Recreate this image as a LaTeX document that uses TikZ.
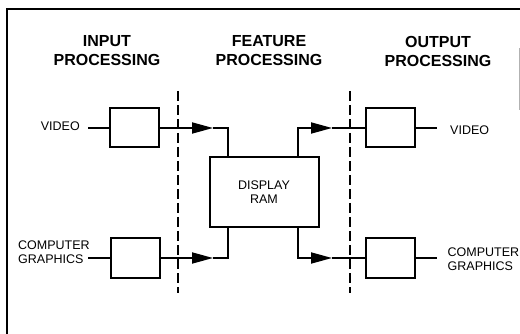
\documentclass[tikz,border=0pt]{standalone}
\usepackage{fontspec}
\setmainfont{Liberation Sans}
\usetikzlibrary{arrows.meta}
\begin{document}
\begin{tikzpicture}[x=1pt,y=-1pt,
  box/.style={draw,line width=2pt,minimum width=49pt,minimum height=39pt,inner sep=0pt},
  wire/.style={line width=1.8pt},
  arr/.style={wire,-{Triangle[length=21pt,width=11pt]}},
  bound/.style={line width=1.2pt,dash pattern=on 10pt off 4pt},
  head/.style={font=\bfseries\fontsize{16}{19}\selectfont,align=center,inner sep=0pt},
  lbl/.style={font=\fontsize{12.5}{14}\selectfont,align=left,inner sep=0pt}]
\useasboundingbox (0,0) rectangle (520,334);
% frame
\draw[line width=2pt] (7,340) -- (7,9) -- (522,9);
\draw[gray!60,line width=0.8pt] (519.5,48) -- (519.5,110);
% headings
\node[head] (h1) at (107,51) {INPUT\\PROCESSING};
\node[head] (h2) at (269,51) {FEATURE\\PROCESSING};
\node[head] (h3) at (438,51) {OUTPUT\\PROCESSING};
% boundaries
\coordinate (d1t) at (178,91); \coordinate (d1b) at (178,293);
\coordinate (d2t) at (350,91); \coordinate (d2b) at (350,293);
\draw[bound] (d1t) -- (d1b);
\draw[bound] (d2t) -- (d2b);
% boxes
\node[box] (inV) at (134,128) {};
\node[box] (inG) at (135,258) {};
\node[box,minimum width=109pt,minimum height=70pt,align=center,
  font=\fontsize{12.5}{14}\selectfont] (ram) at (264,192.5) {DISPLAY\\RAM};
\node[box] (outV) at (390.5,128) {};
\node[box] (outG) at (390.5,258) {};
% labels
\node[lbl,anchor=east] (lVin) at (80,126.5) {VIDEO};
\node[lbl,anchor=west] (lGin) at (18,252) {COMPUTER\\GRAPHICS};
\node[lbl,anchor=west] (lVout) at (450,130) {VIDEO};
\node[lbl,anchor=west] (lGout) at (447.5,259) {COMPUTER\\GRAPHICS};
% input leads
\coordinate (vin) at (88,128);
\coordinate (gin) at (88,258);
\draw[wire] (vin) -- (inV.west);
\draw[wire] (gin) -- (inG.west);
% input to RAM
\coordinate (a1) at (213,128); \coordinate (k1) at (228,128);
\coordinate (a2) at (213,258); \coordinate (k2) at (228,258);
\draw[arr] (inV.east) -- (a1);
\draw[wire] (a1) -- (k1) -- (k1 |- ram.north);
\draw[arr] (inG.east) -- (a2);
\draw[wire] (a2) -- (k2) -- (k2 |- ram.south);
% RAM to output
\coordinate (k3) at (298,128); \coordinate (a3) at (332,128);
\coordinate (k4) at (298,258); \coordinate (a4) at (332,258);
\draw[arr] (k3 |- ram.north) -- (k3) -- (a3);
\draw[wire] (a3) -- (outV.west);
\draw[arr] (k4 |- ram.south) -- (k4) -- (a4);
\draw[wire] (a4) -- (outG.west);
% output leads
\coordinate (vout) at (437,128);
\coordinate (gout) at (437,258);
\draw[wire] (outV.east) -- (vout);
\draw[wire] (outG.east) -- (gout);
\end{tikzpicture}
\end{document}
